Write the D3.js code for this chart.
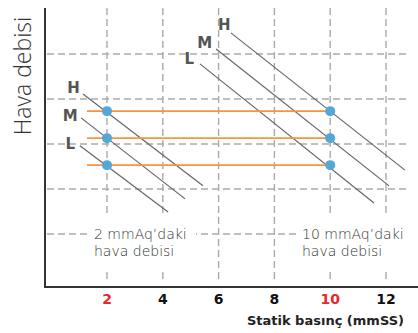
<!DOCTYPE html>
<html>
<head>
<meta charset="utf-8">
<script src="https://cdn.jsdelivr.net/npm/d3@7"></script>
<style>
  body { margin: 0; background: #fff; }
  svg { display: block; }
</style>
</head>
<body>
<svg id="chart"></svg>
<script>
var width = 418;
var height = 333;

// x ticks (statik basinc) and grid levels for the flow axis
var xTicks = [2, 4, 6, 8, 10, 12];
var redTicks = [2, 10];
var yGrid = [1, 2, 3, 4, 5];

// fan curves: [x0, y0, x1, y1] in data units
var curveNames = ["H", "M", "L"];
var leftCurves = [[1.14, 4.11, 5.44, 2.07], [1.07, 3.58, 4.80, 1.78], [1.03, 2.96, 4.19, 1.49]];
var rightCurves = [[6.44, 5.47, 12.68, 2.42], [5.91, 5.11, 12.11, 2.07], [5.33, 4.78, 11.57, 1.69]];

// curve label positions (data units)
var leftLabelPos = [[0.8, 4.25], [0.68, 3.63], [0.68, 3.0]];
var rightLabelPos = [[6.2, 5.65], [5.5, 5.25], [4.95, 4.9]];

// operating points at 2 and 10 mmAq
var dotX = [2, 10];
var flowLevels = [3.73, 3.13, 2.53];
var flowLineStart = 1.28;

var svg = d3.select("#chart").attr("width", width).attr("height", height);

var x = d3.scaleLinear().domain([0, 2]).range([51.2, 107]);
var y = d3.scaleLinear().domain([0, 1]).range([279, 234]);

var axisLeft = 45, axisBottom = 287, axisTop = 8;
var boldFont = "'DejaVu Sans', sans-serif";
var lightFont = "'Open Sans', sans-serif";
var grid = svg.append("g").attr("class", "grid");

// vertical dashed grid
grid.selectAll(".vgrid").data(xTicks).enter().append("line")
  .attr("x1", function(d){ return x(d); })
  .attr("x2", function(d){ return x(d); })
  .attr("y1", axisTop).attr("y2", axisBottom - 4)
  .attr("stroke", "#aaa").attr("stroke-width", 1.4)
  .attr("stroke-dasharray", "7,4");

// horizontal dashed grid
grid.selectAll(".hgrid").data(yGrid).enter().append("line")
  .attr("x1", axisLeft + 2).attr("x2", 406)
  .attr("y1", function(d){ return y(d); })
  .attr("y2", function(d){ return y(d); })
  .attr("stroke", "#aaa").attr("stroke-width", 1.4)
  .attr("stroke-dasharray", "7,4");

// fan curves
function drawCurves(data, cls) {
  svg.selectAll("." + cls).data(data).enter().append("line")
    .attr("class", cls)
    .attr("x1", function(d){ return x(d[0]); })
    .attr("y1", function(d){ return y(d[1]); })
    .attr("x2", function(d){ return x(d[2]); })
    .attr("y2", function(d){ return y(d[3]); })
    .attr("stroke", "#666").attr("stroke-width", 1.2);
}
drawCurves(leftCurves, "lcurve");
drawCurves(rightCurves, "rcurve");

function drawNames(pos, cls) {
  svg.selectAll("." + cls).data(pos).enter().append("text")
    .attr("class", cls)
    .attr("x", function(d){ return x(d[0]); })
    .attr("y", function(d){ return y(d[1]); })
    .attr("text-anchor", "middle")
    .attr("dominant-baseline", "central")
    .attr("font-family", boldFont)
    .attr("font-weight", "bold")
    .attr("font-size", "15px")
    .attr("fill", "#555")
    .text(function(d, i){ return curveNames[i]; });
}
drawNames(leftLabelPos, "lname");
drawNames(rightLabelPos, "rname");

// orange flow lines
svg.selectAll(".flow").data(flowLevels).enter().append("line")
  .attr("x1", x(flowLineStart)).attr("x2", x(dotX[1]))
  .attr("y1", function(d){ return y(d); })
  .attr("y2", function(d){ return y(d); })
  .attr("stroke", "#f7943c").attr("stroke-width", 1.8);

// dots
dotX.forEach(function(dx) {
  svg.selectAll(".dot" + dx).data(flowLevels).enter().append("circle")
    .attr("cx", x(dx))
    .attr("cy", function(d){ return y(d); })
    .attr("r", 5)
    .attr("fill", "#55a7d5");
});

// annotation boxes
var notes = [
  { x: 94, lines: ["2 mmAq’daki", "hava debisi"], x0: 88, x1: 196 },
  { x: 302, lines: ["10 mmAq’daki", "hava debisi"], x0: 298, x1: 410 }
];
notes.forEach(function(n) {
  svg.append("rect").attr("x", n.x0).attr("y", 215)
    .attr("width", n.x1 - n.x0).attr("height", 54).attr("fill", "#fff");
  var t = svg.append("text")
    .attr("font-family", "'DejaVu Sans', sans-serif")
    .attr("font-weight", 200)
    .attr("font-size", "14px")
    .attr("fill", "#333");
  n.lines.forEach(function(s, i) {
    t.append("tspan").attr("x", n.x).attr("y", 239 + i * 16.5).text(s);
  });
});

// axes
svg.append("line").attr("x1", axisLeft).attr("x2", axisLeft)
  .attr("y1", axisTop).attr("y2", axisBottom + 1)
  .attr("stroke", "#333").attr("stroke-width", 2);
svg.append("line").attr("x1", axisLeft).attr("x2", width)
  .attr("y1", axisBottom).attr("y2", axisBottom)
  .attr("stroke", "#333").attr("stroke-width", 2);

svg.selectAll(".tick").data(xTicks).enter().append("text")
  .attr("x", function(d){ return x(d); })
  .attr("y", 304)
  .attr("text-anchor", "middle")
  .attr("font-family", boldFont)
  .attr("font-weight", "bold")
  .attr("font-size", "14px")
  .attr("fill", function(d){ return redTicks.indexOf(d) >= 0 ? "#e8262c" : "#111"; })
  .text(function(d){ return d; });

svg.append("text")
  .attr("x", 404).attr("y", 325)
  .attr("text-anchor", "end")
  .attr("font-family", boldFont)
  .attr("font-weight", "bold")
  .attr("font-size", "13px")
  .attr("fill", "#222")
  .text("Statik basınç (mmSS)");

svg.append("text")
  .attr("transform", "translate(31,76) rotate(-90)")
  .attr("text-anchor", "middle")
  .attr("font-family", lightFont)
  .attr("font-weight", 300)
  .attr("font-size", "23px")
  .attr("fill", "#333")
  .text("Hava debisi");
</script>
</body>
</html>
